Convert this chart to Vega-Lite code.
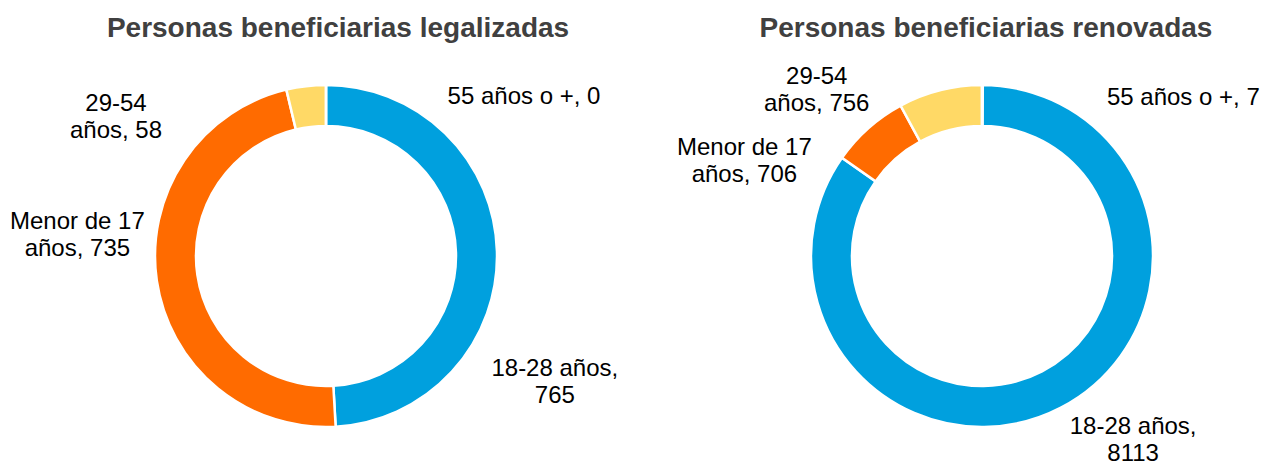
{
  "$schema": "https://vega.github.io/schema/vega-lite/v6.json",
  "padding": {"left": 0, "top": 15, "right": 0, "bottom": 0},
  "background": "#ffffff",
  "config": {"view": {"stroke": null}},
  "spacing": 41,
  "bounds": "flush",
  "data": {"values": [
    {"grafico": "legalizadas", "grupo": "18-28 años", "valor": 765, "orden": 1, "etiqueta": "18-28 años,\n765"},
    {"grafico": "legalizadas", "grupo": "Menor de 17 años", "valor": 735, "orden": 2, "etiqueta": "Menor de 17\naños, 735"},
    {"grafico": "legalizadas", "grupo": "29-54 años", "valor": 58, "orden": 3, "etiqueta": "29-54\naños, 58"},
    {"grafico": "legalizadas", "grupo": "55 años o +", "valor": 0, "orden": 4, "etiqueta": "55 años o +, 0"},
    {"grafico": "renovadas", "grupo": "18-28 años", "valor": 8113, "orden": 1, "etiqueta": "18-28 años,\n8113"},
    {"grafico": "renovadas", "grupo": "Menor de 17 años", "valor": 706, "orden": 2, "etiqueta": "Menor de 17\naños, 706"},
    {"grafico": "renovadas", "grupo": "29-54 años", "valor": 756, "orden": 3, "etiqueta": "29-54\naños, 756"},
    {"grafico": "renovadas", "grupo": "55 años o +", "valor": 7, "orden": 4, "etiqueta": "55 años o +, 7"}
  ]},
  "resolve": {"scale": {"theta": "independent"}},
  "hconcat": [
    {
      "width": 652,
      "height": 392,
      "title": {"text": "Personas beneficiarias legalizadas", "font": "Liberation Sans", "fontSize": 28, "fontWeight": "bold", "color": "#404040", "offset": 17, "dx": 12, "frame": "group"},
      "transform": [
        {"filter": "datum.grafico === 'legalizadas'"},
        {"stack": "valor", "groupby": [], "sort": [{"field": "orden", "order": "ascending"}], "as": ["inicio", "fin"]}
      ],
      "layer": [
        {
          "mark": {"type": "arc", "innerRadius": 130, "outerRadius": 171, "stroke": "#ffffff", "strokeWidth": 2.5},
          "encoding": {
            "theta": {"field": "inicio", "type": "quantitative", "stack": null, "scale": {"zero": true, "nice": false}},
            "theta2": {"field": "fin"},
            "color": {"field": "grupo", "type": "nominal", "legend": null,
              "scale": {"domain": ["18-28 años", "Menor de 17 años", "29-54 años", "55 años o +"], "range": ["#00A0DE", "#FF6B00", "#FFD966", "#A5A5A5"]}}
          }
        },
        {
          "transform": [{"filter": "datum.grupo === '18-28 años'"}],
          "mark": {"type": "text", "radius": 255, "thetaOffset": 2.028, "font": "Liberation Sans", "fontSize": 24, "lineBreak": "\n", "lineHeight": 27, "color": "#000000", "align": "center", "baseline": "middle"},
          "encoding": {"theta": {"field": "inicio", "type": "quantitative", "stack": null}, "text": {"field": "etiqueta"}}
        },
        {
          "transform": [{"filter": "datum.grupo === 'Menor de 17 años'"}],
          "mark": {"type": "text", "radius": 251, "thetaOffset": 1.765, "font": "Liberation Sans", "fontSize": 24, "lineBreak": "\n", "lineHeight": 27, "color": "#000000", "align": "center", "baseline": "middle"},
          "encoding": {"theta": {"field": "inicio", "type": "quantitative", "stack": null}, "text": {"field": "etiqueta"}}
        },
        {
          "transform": [{"filter": "datum.grupo === '29-54 años'"}],
          "mark": {"type": "text", "radius": 259.5, "thetaOffset": -0.709, "font": "Liberation Sans", "fontSize": 24, "lineBreak": "\n", "lineHeight": 27, "color": "#000000", "align": "center", "baseline": "middle"},
          "encoding": {"theta": {"field": "inicio", "type": "quantitative", "stack": null}, "text": {"field": "etiqueta"}}
        },
        {
          "transform": [{"filter": "datum.grupo === '55 años o +'"}],
          "mark": {"type": "text", "radius": 254, "thetaOffset": 0.894, "font": "Liberation Sans", "fontSize": 24, "lineBreak": "\n", "lineHeight": 27, "color": "#000000", "align": "center", "baseline": "middle"},
          "encoding": {"theta": {"field": "inicio", "type": "quantitative", "stack": null}, "text": {"field": "etiqueta"}}
        }
      ]
    },
    {
      "width": 578,
      "height": 392,
      "title": {"text": "Personas beneficiarias renovadas", "font": "Liberation Sans", "fontSize": 28, "fontWeight": "bold", "color": "#404040", "offset": 17, "dx": 4, "frame": "group"},
      "transform": [
        {"filter": "datum.grafico === 'renovadas'"},
        {"stack": "valor", "groupby": [], "sort": [{"field": "orden", "order": "ascending"}], "as": ["inicio", "fin"]}
      ],
      "layer": [
        {
          "mark": {"type": "arc", "innerRadius": 130, "outerRadius": 171, "stroke": "#ffffff", "strokeWidth": 2.5},
          "encoding": {
            "theta": {"field": "inicio", "type": "quantitative", "stack": null, "scale": {"zero": true, "nice": false}},
            "theta2": {"field": "fin"},
            "color": {"field": "grupo", "type": "nominal", "legend": null,
              "scale": {"domain": ["18-28 años", "Menor de 17 años", "29-54 años", "55 años o +"], "range": ["#00A0DE", "#FF6B00", "#FFD966", "#A5A5A5"]}}
          }
        },
        {
          "transform": [{"filter": "datum.grupo === '18-28 años'"}],
          "mark": {"type": "text", "radius": 228, "thetaOffset": 2.417, "font": "Liberation Sans", "fontSize": 24, "lineBreak": "\n", "lineHeight": 27, "color": "#000000", "align": "center", "baseline": "middle"},
          "encoding": {"theta": {"field": "inicio", "type": "quantitative", "stack": null}, "text": {"field": "etiqueta"}}
        },
        {
          "transform": [{"filter": "datum.grupo === 'Menor de 17 años'"}],
          "mark": {"type": "text", "radius": 261, "thetaOffset": -0.185, "font": "Liberation Sans", "fontSize": 24, "lineBreak": "\n", "lineHeight": 27, "color": "#000000", "align": "center", "baseline": "middle"},
          "encoding": {"theta": {"field": "inicio", "type": "quantitative", "stack": null}, "text": {"field": "etiqueta"}}
        },
        {
          "transform": [{"filter": "datum.grupo === '29-54 años'"}],
          "mark": {"type": "text", "radius": 243.5, "thetaOffset": -0.250, "font": "Liberation Sans", "fontSize": 24, "lineBreak": "\n", "lineHeight": 27, "color": "#000000", "align": "center", "baseline": "middle"},
          "encoding": {"theta": {"field": "inicio", "type": "quantitative", "stack": null}, "text": {"field": "etiqueta"}}
        },
        {
          "transform": [{"filter": "datum.grupo === '55 años o +'"}],
          "mark": {"type": "text", "radius": 256, "thetaOffset": 0.905, "font": "Liberation Sans", "fontSize": 24, "lineBreak": "\n", "lineHeight": 27, "color": "#000000", "align": "center", "baseline": "middle"},
          "encoding": {"theta": {"field": "inicio", "type": "quantitative", "stack": null}, "text": {"field": "etiqueta"}}
        }
      ]
    }
  ]
}
